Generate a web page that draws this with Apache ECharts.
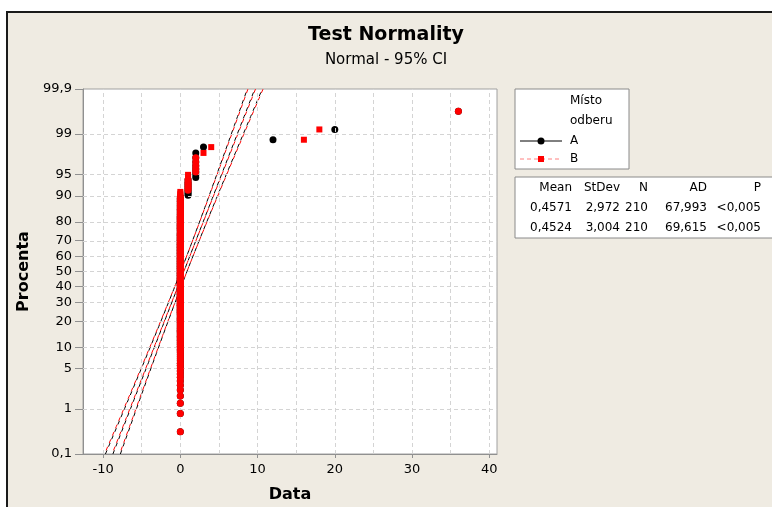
<!DOCTYPE html>
<html>
<head>
<meta charset="utf-8">
<script src="https://cdn.jsdelivr.net/npm/echarts@6/dist/echarts.min.js"></script>
<style>
    html, body { margin: 0; padding: 0; background: #fff; width: 772px; height: 507px; overflow: hidden; }
    #frame { position: absolute; left: 6px; top: 11px; width: 800px; height: 520px; background: #efebe2; border: 2px solid #1a1a1a; }
    #main { position: absolute; left: 0; top: 0; width: 772px; height: 507px; }
</style>
</head>
<body>
<div id="frame"></div>
<div id="main"></div>
<script>
// raw samples as value / count pairs (Místo odberu A and B)
const valuesA = [0, 1, 2, 3, 12, 20, 36];
const countsA = [189, 9, 8, 1, 1, 1, 1];
const valuesB = [0, 1, 2, 3, 4, 16, 18, 36];
const countsB = [192, 8, 5, 1, 1, 1, 1, 1];

const meanA = 0.4571, sdA = 2.972;
const meanB = 0.4524, sdB = 3.004;
const sampleN = 210;

const statsHeader = ['Mean', 'StDev', 'N', 'AD', 'P'];
const statsA = ['0,4571', '2,972', '210', '67,993', '<0,005'];
const statsB = ['0,4524', '3,004', '210', '69,615', '<0,005'];

const percentTicks = [0.1, 1, 5, 10, 20, 30, 40, 50, 60, 70, 80, 90, 95, 99, 99.9];
const percentLabels = ['0,1', '1', '5', '10', '20', '30', '40', '50', '60', '70', '80', '90', '95', '99', '99,9'];
const xTicks = [-10, 0, 10, 20, 30, 40];
const xGrid = [-10, -5, 0, 5, 10, 15, 20, 25, 30, 35, 40];

// inverse normal cdf (Acklam) - the probability scale of the y axis
function probit(p) {
    const a = [-39.69683028665376, 220.9460984245205, -275.9285104469687, 138.3577518672690, -30.66479806614716, 2.506628277459239];
    const b = [-54.47609879822406, 161.5858368580409, -155.6989798598866, 66.80131188771972, -13.28068155288572];
    const c = [-0.007784894002430293, -0.3223964580411365, -2.400758277161838, -2.549732539343734, 4.374664141464968, 2.938163982698783];
    const d = [0.007784695709041462, 0.3224671290700398, 2.445134137142996, 3.754408661907416];
    const pl = 0.02425;
    let q, r;
    if (p < pl) {
        q = Math.sqrt(-2 * Math.log(p));
        return (((((c[0]*q+c[1])*q+c[2])*q+c[3])*q+c[4])*q+c[5]) / ((((d[0]*q+d[1])*q+d[2])*q+d[3])*q+1);
    }
    if (p > 1 - pl) {
        q = Math.sqrt(-2 * Math.log(1 - p));
        return -(((((c[0]*q+c[1])*q+c[2])*q+c[3])*q+c[4])*q+c[5]) / ((((d[0]*q+d[1])*q+d[2])*q+d[3])*q+1);
    }
    q = p - 0.5; r = q * q;
    return (((((a[0]*r+a[1])*r+a[2])*r+a[3])*r+a[4])*r+a[5])*q / (((((b[0]*r+b[1])*r+b[2])*r+b[3])*r+b[4])*r+1);
}

function expand(values, counts) {
    let out = [];
    values.forEach((v, i) => { for (let k = 0; k < counts[i]; k++) out.push(v); });
    return out;
}

const sortedA = expand(valuesA, countsA);
const sortedB = expand(valuesB, countsB);
const nA = sortedA.length, nB = sortedB.length;

// median ranks plotting positions
const pointsA = sortedA.map((v, i) => [v, probit((i + 1 - 0.3) / (nA + 0.4))]);
const pointsB = sortedB.map((v, i) => {
    const same = sortedA[i] === v;
    return { value: [v, probit((i + 1 - 0.3) / (nB + 0.4))], symbol: same ? 'circle' : 'rect', symbolSize: same ? 7 : 6 };
});

const tickZ = percentTicks.map(p => probit(p / 100));
const zMin = tickZ[0], zMax = tickZ[tickZ.length - 1];

function fitLines(mean, sd) {
    let fit = [], lo = [], hi = [];
    for (let k = 0; k <= 40; k++) {
        const z = zMin + (zMax - zMin) * k / 40;
        const x = mean + z * sd;
        const h = 1.96 * sd * Math.sqrt(1 / sampleN + z * z / (2 * (sampleN - 1)));
        fit.push([x, z]); lo.push([x - h, z]); hi.push([x + h, z]);
    }
    return [fit, lo, hi];
}
const linesA = fitLines(meanA, sdA);
const linesB = fitLines(meanB, sdB);

function lineSeries(data, color, offset) {
    return {
        type: 'line', data: data, showSymbol: false, silent: true, z: 3,
        lineStyle: { color: color, width: 1, type: [4, 4], dashOffset: offset }
    };
}

const font = 'DejaVu Sans';
let myChart = echarts.init(document.getElementById('main'));

let graphics = [];
// legend box
graphics.push({ type: 'rect', shape: { x: 515, y: 89, width: 114, height: 80 }, style: { fill: '#fff', stroke: '#8a8a8a', lineWidth: 1 } });
graphics.push({ type: 'text', x: 570, y: 101, style: { text: 'Místo', font: '12px ' + font, fill: '#000', verticalAlign: 'middle' } });
graphics.push({ type: 'text', x: 570, y: 121, style: { text: 'odberu', font: '12px ' + font, fill: '#000', verticalAlign: 'middle' } });
graphics.push({ type: 'line', shape: { x1: 520, y1: 141, x2: 562, y2: 141 }, style: { stroke: '#000', lineWidth: 1 } });
graphics.push({ type: 'circle', shape: { cx: 541, cy: 141, r: 3.5 }, style: { fill: '#000' } });
graphics.push({ type: 'text', x: 570, y: 141, style: { text: 'A', font: '12px ' + font, fill: '#000', verticalAlign: 'middle' } });
graphics.push({ type: 'line', shape: { x1: 520, y1: 159, x2: 562, y2: 159 }, style: { stroke: '#ff8080', lineWidth: 1, lineDash: [4, 3] } });
graphics.push({ type: 'rect', shape: { x: 538, y: 156, width: 6, height: 6 }, style: { fill: '#ff0000' } });
graphics.push({ type: 'text', x: 570, y: 159, style: { text: 'B', font: '12px ' + font, fill: '#000', verticalAlign: 'middle' } });

// stats table
graphics.push({ type: 'rect', shape: { x: 515, y: 177, width: 270, height: 61 }, style: { fill: '#fff', stroke: '#8a8a8a', lineWidth: 1 } });
const colRight = [572, 620, 648, 707, 761];
[statsHeader, statsA, statsB].forEach((row, r) => {
    row.forEach((t, c) => {
        graphics.push({ type: 'text', x: colRight[c], y: 188 + r * 20, style: { text: t, font: '12px ' + font, fill: '#000', align: 'right', verticalAlign: 'middle' } });
    });
});

let option = {
    backgroundColor: 'transparent',
    animation: false,
    title: [
        { text: 'Test Normality', left: 'center', top: 21, textStyle: { fontFamily: font, fontSize: 19, fontWeight: 'bold', color: '#000' } },
        { text: 'Normal - 95% CI', left: 'center', top: 48, textStyle: { fontFamily: font, fontSize: 15, fontWeight: 'normal', color: '#000' } }
    ],
    grid: {
        left: 83, top: 89, width: 414, height: 365,
        show: true, backgroundColor: '#fff', borderColor: '#a0a0a0', borderWidth: 1,
        containLabel: false, outerBoundsMode: 'none'
    },
    xAxis: {
        type: 'value', min: -12.6, max: 41,
        name: 'Data', nameLocation: 'middle', nameGap: 33,
        nameTextStyle: { fontFamily: font, fontSize: 16, fontWeight: 'bold', color: '#000' },
        axisLine: { show: true, onZero: false, lineStyle: { color: '#909090' } },
        axisTick: { show: true, length: 4, customValues: xTicks, lineStyle: { color: '#909090' } },
        axisLabel: { customValues: xTicks, fontFamily: font, fontSize: 13, color: '#000', margin: 9 },
        splitLine: { show: false }
    },
    yAxis: {
        type: 'value', min: zMin, max: zMax,
        name: 'Procenta', nameLocation: 'middle', nameGap: 50, nameRotate: 90,
        nameTextStyle: { fontFamily: font, fontSize: 16, fontWeight: 'bold', color: '#000' },
        axisLine: { show: true, onZero: false, lineStyle: { color: '#909090' } },
        axisTick: { show: true, length: 8, customValues: tickZ, lineStyle: { color: '#909090' } },
        axisLabel: {
            customValues: tickZ, showMinLabel: true, showMaxLabel: true,
            fontFamily: font, fontSize: 13, color: '#000', margin: 11,
            formatter: function (v) {
                for (let i = 0; i < tickZ.length; i++) {
                    if (Math.abs(tickZ[i] - v) < 1e-6) return percentLabels[i];
                }
                return '';
            }
        },
        splitLine: { show: false }
    },
    graphic: { elements: graphics },
    series: [
        {
            type: 'scatter', data: [], silent: true, z: 1,
            markLine: {
                silent: true, symbol: ['none', 'none'], label: { show: false }, animation: false,
                lineStyle: { color: '#d4d4d4', width: 1, type: [4, 3] },
                data: xGrid.map(v => ({ xAxis: v })).concat(tickZ.slice(1, -1).map(v => ({ yAxis: v })))
            }
        },
        lineSeries(linesA[0], '#000', 0),
        lineSeries(linesA[1], '#000', 0),
        lineSeries(linesA[2], '#000', 0),
        lineSeries(linesB[0], '#ff0000', 4),
        lineSeries(linesB[1], '#ff0000', 4),
        lineSeries(linesB[2], '#ff0000', 4),
        { name: 'A', type: 'scatter', data: pointsA, symbol: 'circle', symbolSize: 7, itemStyle: { color: '#000', opacity: 1 }, z: 4 },
        { name: 'B', type: 'scatter', data: pointsB, itemStyle: { color: '#ff0000', opacity: 1 }, z: 5 }
    ]
};

myChart.setOption(option);
</script>
</body>
</html>
